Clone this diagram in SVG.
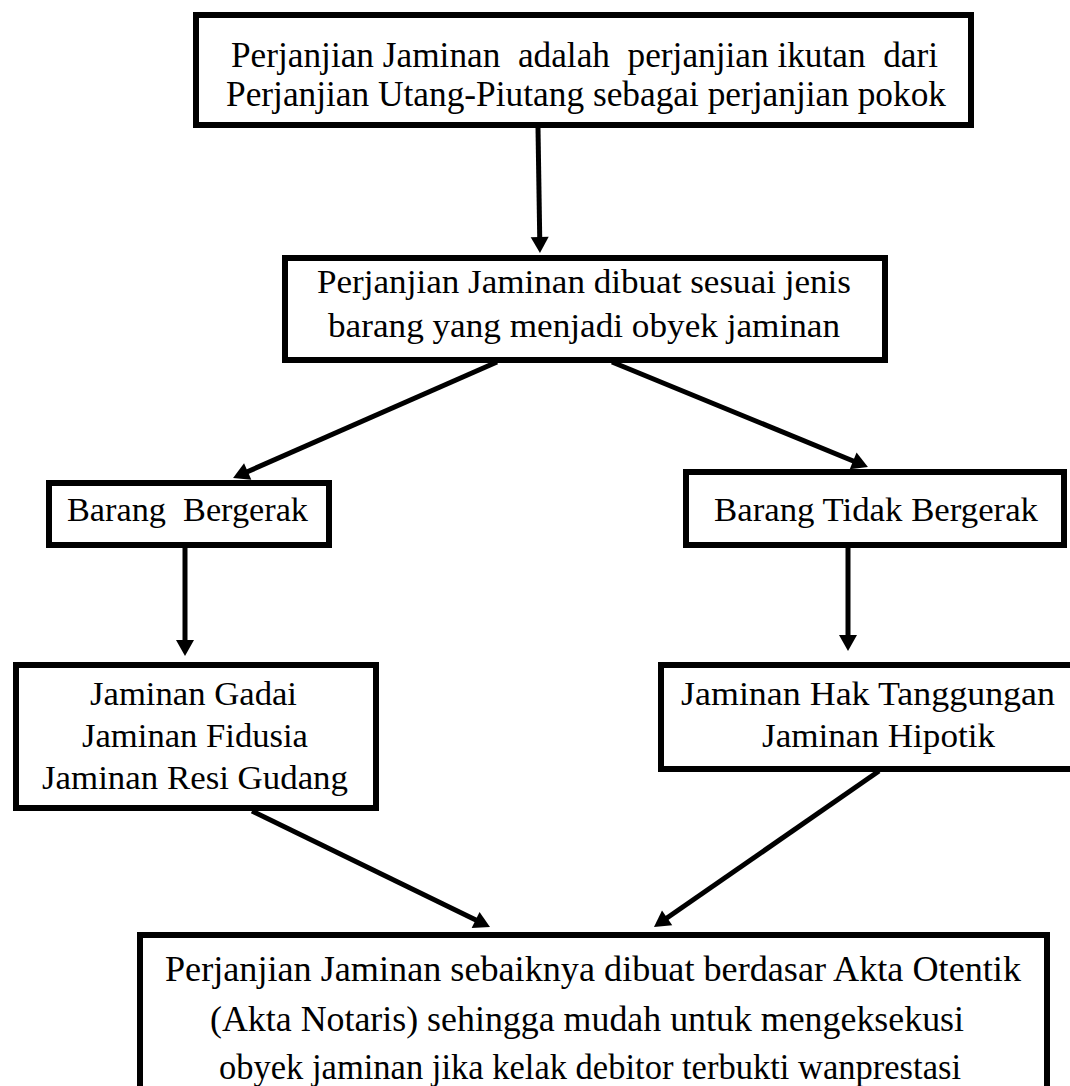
<svg xmlns="http://www.w3.org/2000/svg" width="1070" height="1086" viewBox="0 0 1070 1086">
<style>
.box{fill:#fff;stroke:#000;stroke-width:6}
.t{font-family:"Liberation Serif","Times New Roman",serif;font-size:34px;fill:#000;white-space:pre}
.b{font-size:36px}
.c{stroke:#000;stroke-width:5;fill:none;marker-end:url(#ah)}
</style>
<defs>
<marker id="ah" markerUnits="userSpaceOnUse" markerWidth="16" markerHeight="18" refX="6" refY="9" orient="auto" overflow="visible">
<path d="M0,0 L16,9 L0,18 z" fill="#000"/>
</marker>
</defs>
<rect width="1070" height="1086" fill="#fff"/>
<g id="connectors">
<line class="c" x1="538" y1="128" x2="539.8" y2="243"/>
<line class="c" x1="497" y1="362" x2="242.2" y2="474"/>
<line class="c" x1="612" y1="362" x2="858.7" y2="463.2"/>
<line class="c" x1="185" y1="547" x2="185" y2="646"/>
<line class="c" x1="848" y1="548" x2="848" y2="641"/>
<line class="c" x1="252" y1="811" x2="481" y2="922.6"/>
<line class="c" x1="879" y1="771" x2="662.2" y2="921.3"/>
</g>
<g id="n1">
<rect class="box" x="196" y="15" width="775" height="110"/>
<text class="t b" xml:space="preserve" x="231" y="67" textLength="707" lengthAdjust="spacingAndGlyphs">Perjanjian Jaminan  adalah  perjanjian ikutan  dari</text>
<text class="t b" x="226" y="106" textLength="720" lengthAdjust="spacingAndGlyphs">Perjanjian Utang-Piutang sebagai perjanjian pokok</text>
</g>
<g id="n2">
<rect class="box" x="285" y="258" width="600" height="102"/>
<text class="t" x="317" y="293" textLength="534" lengthAdjust="spacingAndGlyphs">Perjanjian Jaminan dibuat sesuai jenis</text>
<text class="t" x="328" y="337" textLength="512" lengthAdjust="spacingAndGlyphs">barang yang menjadi obyek jaminan</text>
</g>
<g id="n3">
<rect class="box" x="49" y="483" width="280" height="62"/>
<text class="t" xml:space="preserve" x="67" y="521" textLength="241" lengthAdjust="spacingAndGlyphs">Barang  Bergerak</text>
</g>
<g id="n4">
<rect class="box" x="686" y="472" width="378" height="73"/>
<text class="t" x="714" y="521" textLength="324" lengthAdjust="spacingAndGlyphs">Barang Tidak Bergerak</text>
</g>
<g id="n5">
<rect class="box" x="16" y="665" width="360" height="143"/>
<text class="t" x="90" y="705" textLength="207" lengthAdjust="spacingAndGlyphs">Jaminan Gadai</text>
<text class="t" x="82" y="747" textLength="226" lengthAdjust="spacingAndGlyphs">Jaminan Fidusia</text>
<text class="t" x="42" y="789" textLength="306" lengthAdjust="spacingAndGlyphs">Jaminan Resi Gudang</text>
</g>
<g id="n6">
<rect class="box" x="661" y="665" width="420" height="104"/>
<text class="t" x="681" y="705" textLength="374" lengthAdjust="spacingAndGlyphs">Jaminan Hak Tanggungan</text>
<text class="t" x="762" y="747" textLength="233" lengthAdjust="spacingAndGlyphs">Jaminan Hipotik</text>
</g>
<g id="n7">
<rect class="box" x="140" y="935" width="907" height="160"/>
<text class="t b" x="165" y="981" textLength="856" lengthAdjust="spacingAndGlyphs">Perjanjian Jaminan sebaiknya dibuat berdasar Akta Otentik</text>
<text class="t b" x="210" y="1031" textLength="754" lengthAdjust="spacingAndGlyphs">(Akta Notaris) sehingga mudah untuk mengeksekusi</text>
<text class="t b" x="219" y="1079" textLength="742" lengthAdjust="spacingAndGlyphs">obyek jaminan jika kelak debitor terbukti wanprestasi</text>
</g>
</svg>
